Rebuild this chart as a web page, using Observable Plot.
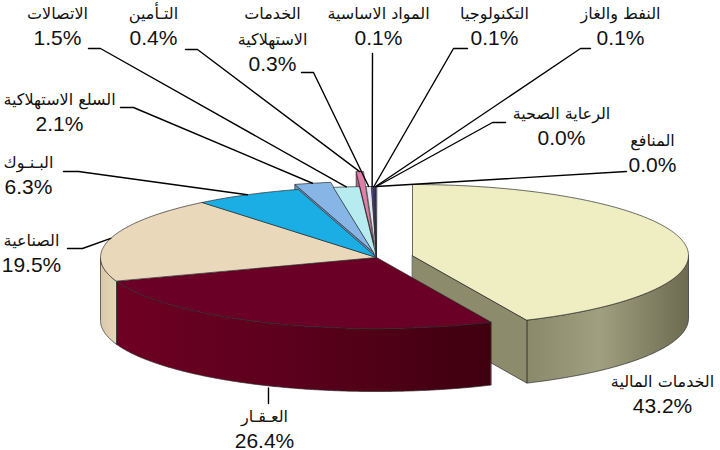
<!DOCTYPE html>
<html>
<head>
<meta charset="utf-8">
<script src="https://cdn.jsdelivr.net/npm/d3@7"></script>
<script src="https://cdn.jsdelivr.net/npm/@observablehq/plot@0.6"></script>
<style>
  html, body { margin: 0; padding: 0; background: #fff; }
  #chart svg { display: block; }
</style>
</head>
<body>
<div id="chart"></div>
<script>
// ---------------- data ----------------
const sectors = [
  "الخدمات المالية", "العـقـار", "الصناعية", "البـنـوك", "السلع الاستهلاكية",
  "الاتصالات", "التـأمين", "الخدمات الاستهلاكية", "المواد الاساسية",
  "التكنولوجيا", "النفط والغاز", "الرعاية الصحية", "المنافع"
];
const shares = [43.2, 26.4, 19.5, 6.3, 2.1, 1.5, 0.4, 0.3, 0.1, 0.1, 0.1, 0.0, 0.0];
const percentLabels = shares.map(v => v.toFixed(1) + "%");

// ---------------- styles ----------------
const topColors = ["#EFEDC2", "#6A0026", "#EAD8BA", "#1AAEE4", "#86B5E6", "#B6ECEF",
                   "#E07FAA", "#E4E4EC", "#56569A", "#3A3A80", "#2A2A6A", "#444", "#444"];
const wallColors = ["url(#gOlive)", "url(#gMaroon)", "url(#gTan)", "#1590BE", "#6C98C6", "#94CCD0",
                    "#B8608A", "#C4C4CC", "#404080", "#2A2A60", "#1E1E50", "#333", "#333"];
const faceColors = ["#8C8B6C", "#5A001C", "#D9C8A9", "#1590BE", "#6C98C6", "#94CCD0",
                    "#B8608A", "#C4C4CC", "#404080", "#2A2A60", "#1E1E50", "#333", "#333"];

// ---------------- layout ----------------
const geom = {cx: 376, cy: 257, rx: 276, ry: 71, depth: 63};
// explode offset of each slice
const explode = [[36, -2], [0, 0], [0, 0], [0, 0], [-3, -5], [0, 0], [-3, -15],
                 [0, 0], [0, 0], [0, 0], [0, 0], [0, 0], [0, 0]];
// label placement: centre x, baseline of first line, wrapped name?, leader [hx, ex, ey, end]
const labelLayout = [
  {x: 662, y: 386, wrap: false, leader: null},
  {x: 264, y: 421, wrap: false, leader: [268, 268, 403, "bottom"]},
  {x: 31,  y: 245, wrap: false, leader: [67, 82, 248, "top"]},
  {x: 28,  y: 167, wrap: false, leader: [63, 78, 171, "top"]},
  {x: 59,  y: 104, wrap: false, leader: [120, 133, 107, "top"]},
  {x: 57,  y: 18,  wrap: false, leader: [88, 100, 48, "top"]},
  {x: 153, y: 18,  wrap: false, leader: [185, 197, 49, "top"]},
  {x: 272, y: 18,  wrap: true,  leader: [301, 313, 72, "top"]},
  {x: 378, y: 18,  wrap: false, leader: [372, 372, 53, "top"]},
  {x: 494, y: 18,  wrap: false, leader: [467, 453, 48, "top"]},
  {x: 620, y: 18,  wrap: false, leader: [590, 580, 48, "top"]},
  {x: 561, y: 118, wrap: false, leader: [505, 492, 122, "top"]},
  {x: 652, y: 145, wrap: false, leader: [626, 626, 171, "top"]}
];
const lineGap = 26;

// ---------------- geometry from values ----------------
const total = d3.sum(shares);
const rad = d => d * Math.PI / 180;
function rimPt(a, off, z = 0) {
  return [geom.cx + off[0] + geom.rx * Math.sin(rad(a)),
          geom.cy + off[1] - geom.ry * Math.cos(rad(a)) + z];
}
function arcPts(a0, a1, off, z = 0) {
  const n = Math.max(2, Math.ceil(Math.abs(a1 - a0) * 2));
  return d3.range(n + 1).map(i => rimPt(a0 + (a1 - a0) * i / n, off, z));
}
let acc = 0;
const slices = sectors.map((name, i) => {
  const a0 = acc / total * 360;
  acc += shares[i];
  const a1 = acc / total * 360;
  return {i, name, a0, a1, mid: (a0 + a1) / 2, off: explode[i],
          exploded: explode[i][0] !== 0 || explode[i][1] !== 0};
});

const polys = [];
function addPoly(id, color, pts) { polys.push({id, color, pts}); }
function apex(s, z = 0) { return [geom.cx + s.off[0], geom.cy + s.off[1] + z]; }
function topFace(s) {
  if (s.a1 - s.a0 <= 0) return;
  addPoly("top" + s.i, topColors[s.i], [apex(s), ...arcPts(s.a0, s.a1, s.off)]);
}
function wall(s) {
  const b0 = Math.max(s.a0, 90), b1 = Math.min(s.a1, 270);
  if (b1 <= b0) return;
  addPoly("wall" + s.i, wallColors[s.i],
    [...arcPts(b0, b1, s.off), ...arcPts(b1, b0, s.off, geom.depth)]);
}
function cutFaces(s) {
  if (s.a1 - s.a0 <= 0) return;
  const face = (a, tag) => addPoly(tag + s.i, faceColors[s.i],
    [apex(s), rimPt(a, s.off), rimPt(a, s.off, geom.depth), apex(s, geom.depth)]);
  if (Math.sin(rad(s.a0)) < -0.01) face(s.a0, "cs");
  if (Math.sin(rad(s.a1)) > 0.01) face(s.a1, "ce");
}

// 1. exploded small slices at the back (back to front)
slices.filter(s => s.exploded && s.i !== 0)
  .sort((a, b) => Math.cos(rad(b.mid)) - Math.cos(rad(a.mid)))
  .forEach(s => { cutFaces(s); topFace(s); });
// 2. exploded financial slice
wall(slices[0]); cutFaces(slices[0]); topFace(slices[0]);
// 3. main body
slices.filter(s => !s.exploded).forEach(wall);
slices.filter(s => !s.exploded).forEach(topFace);

const polyRows = polys.flatMap(p => p.pts.map(([x, y]) => ({id: p.id, color: p.color, x, y})));

// leader lines
const leaderRows = [];
slices.forEach(s => {
  const L = labelLayout[s.i].leader;
  if (!L) return;
  const [hx, ex, ey, end] = L;
  const target = end === "bottom" ? rimPt(s.mid, s.off, geom.depth) : rimPt(s.mid, s.off);
  const pts = [[hx, ey], [ex, ey], end === "bottom" ? [target[0], target[1] + 2] : target];
  pts.forEach(([x, y]) => leaderRows.push({id: "L" + s.i, x, y}));
});

// labels
const nameRows = [], pctRows = [];
slices.forEach(s => {
  const lay = labelLayout[s.i];
  const lines = lay.wrap ? s.name.split(" ") : [s.name];
  lines.forEach((t, k) => nameRows.push({x: lay.x, y: lay.y + k * lineGap, text: t}));
  pctRows.push({x: lay.x, y: lay.y + lines.length * lineGap, text: percentLabels[s.i]});
});

const svg = Plot.plot({
  width: 720, height: 450,
  margin: 0,
  x: {domain: [0, 720], range: [0, 720], axis: null},
  y: {domain: [0, 450], range: [0, 450], axis: null},
  color: {type: "identity"},
  style: {background: "#fff", overflow: "visible"},
  marks: [
    Plot.line(polyRows, {x: "x", y: "y", z: "id", fill: "color", stroke: "#2a2a2a",
      strokeWidth: 0.7, curve: "linear-closed", strokeLinejoin: "round"}),
    Plot.line(leaderRows, {x: "x", y: "y", z: "id", stroke: "#000", strokeWidth: 1.4}),
    Plot.text(nameRows, {x: "x", y: "y", text: "text", textAnchor: "middle", lineAnchor: "bottom",
      fontSize: 16, fill: "#111", fontFamily: "DejaVu Sans, sans-serif"}),
    Plot.text(pctRows, {x: "x", y: "y", text: "text", textAnchor: "middle", lineAnchor: "bottom",
      fontSize: 21, fill: "#111", fontFamily: "Liberation Sans, Arial, sans-serif"})
  ]
});

// gradients for the curved walls
const defs = d3.select(svg).insert("defs", ":first-child");
function grad(id, stops) {
  const g = defs.append("linearGradient").attr("id", id)
    .attr("x1", 0).attr("y1", 0).attr("x2", 1).attr("y2", 0);
  stops.forEach(([o, c]) => g.append("stop").attr("offset", o).attr("stop-color", c));
}
grad("gMaroon", [[0, "#6E0024"], [0.5, "#5A001C"], [1, "#3E000F"]]);
grad("gOlive", [[0, "#8A896A"], [0.45, "#A09F80"], [1, "#6C6B50"]]);
grad("gTan", [[0, "#D9C8A9"], [1, "#E6D5B7"]]);

document.getElementById("chart").appendChild(svg);
</script>
</body>
</html>
